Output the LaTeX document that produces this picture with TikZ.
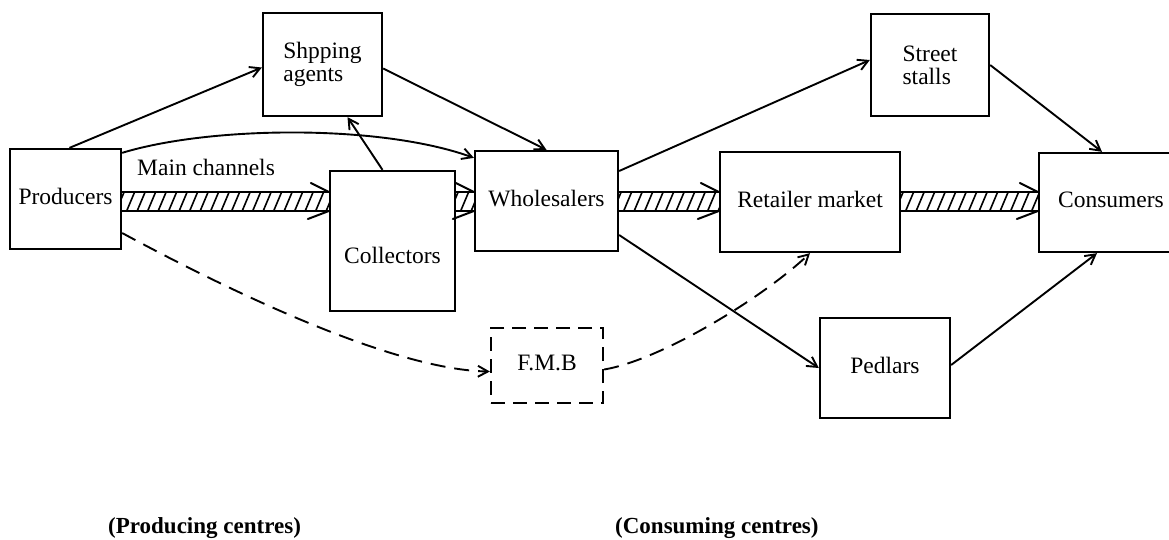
\documentclass[tikz,border=0pt]{standalone}
\usepackage{fontspec}
\setmainfont{Liberation Serif}
\usetikzlibrary{arrows.meta,calc}

% hatched double-edged channel between two boxes
\newcommand\flowband[2]{%
  \path (#1.east) coordinate (bs) (#2.west) coordinate (be);
  \begin{scope}
    \clip (bs |- 0,192) rectangle (be |- 0,211);
    \foreach \k in {0,...,30}
      \draw[hatchline] ($(bs |- 0,211)+(\k*10.5-6,0)$) -- ++(8,-19);
  \end{scope}
  \draw[bandedge] (bs |- 0,192) -- (be |- 0,192);
  \draw[bandedge] (bs |- 0,211) -- (be |- 0,211);
  \draw[bandedge] ($(be |- 0,192)+(-18,-9)$) -- (be |- 0,192);
  \draw[bandedge] ($(be |- 0,211)+(-21,8)$) -- (be |- 0,211);
}

\begin{document}
\begin{tikzpicture}[x=1pt,y=-1pt,
  boxtext/.style={font=\fontsize{23.5}{23}\selectfont},
  box/.style={draw, line width=2.3pt, inner sep=0pt, boxtext},
  oneline/.style={box, text depth=6pt},
  dashedbox/.style={oneline, dash pattern=on 14pt off 8pt},
  labeltext/.style={inner sep=0pt, boxtext},
  boldlabel/.style={inner sep=0pt, font=\fontsize{23}{23}\selectfont\bfseries},
  arr/.style={line width=1.9pt, -{Straight Barb[length=10pt,width=11pt,line width=1.9pt]}},
  darr/.style={arr, dash pattern=on 15pt off 9pt},
  hatchline/.style={line width=1.6pt},
  bandedge/.style={line width=2pt, line cap=round},
]
\useasboundingbox (0,0) rectangle (1169,539);
\clip (0,0) rectangle (1169,539);

% boxes
\node[oneline, minimum width=111pt, minimum height=100pt] (prod) at (65.5,199) {Producers};
\node[box, minimum width=119pt, minimum height=103pt, align=left] (ship) at (322.5,64.5) {Shpping\\agents};
\node[box, minimum width=125pt, minimum height=140pt] (coll) at (392.5,241) {};
\node[labeltext, anchor=base] (colltext) at (392.5,263) {Collectors};
\node[oneline, minimum width=143pt, minimum height=100pt] (whol) at (546.5,201) {Wholesalers};
\node[oneline, minimum width=180pt, minimum height=100pt] (ret) at (810,202) {Retailer market};
\node[oneline, minimum width=144pt, minimum height=99pt] (cons) at (1111,202.5) {Consumers};
\node[box, minimum width=118pt, minimum height=102pt, align=left] (stall) at (930,65) {Street\\stalls};
\node[dashedbox, minimum width=112pt, minimum height=75pt] (fmb) at (547,365.5) {F.M.B};
\node[oneline, minimum width=130pt, minimum height=100pt] (ped) at (885,368) {Pedlars};

% labels
\node[labeltext, anchor=base west] (mainlab) at (137,175) {Main channels};
\node[boldlabel, anchor=base west] (prodcent) at (108,533) {(Producing centres)};
\node[boldlabel, anchor=base west] (conscent) at (615,533) {(Consuming centres)};

% main channels
\flowband{prod}{coll}
\flowband{coll}{whol}
\flowband{whol}{ret}
\flowband{ret}{cons}

% other flows
\draw[arr] ($(prod.north)+(4,0)$) -- ($(ship.west)+(0,3)$);
\draw[arr] ($(prod.north east)+(0,5)$) .. controls (210,126) and (380,124) .. ($(whol.north west)+(0,8)$);
\draw[arr] ($(coll.north)+(-10,0)$) -- ($(ship.south)+(25,0)$);
\draw[arr] ($(ship.east)+(0,4)$) -- (whol.north);
\draw[arr] ($(whol.east)+(0,-30)$) -- ($(stall.west)+(0,-5)$);
\draw[arr] (stall.east) -- ($(cons.north)+(-9,0)$);
\draw[arr] ($(whol.east)+(0,34)$) -- (ped.west);
\draw[arr] ($(ped.east)+(0,-3)$) -- ($(cons.south)+(-14,0)$);
\draw[darr] ($(prod.east)+(0,34)$) .. controls (250,302) and (400,370) .. ($(fmb.west)+(0,6)$);
\draw[darr] ($(fmb.east)+(0,4)$) .. controls (660,360) and (760,300) .. (ret.south);
\end{tikzpicture}
\end{document}
